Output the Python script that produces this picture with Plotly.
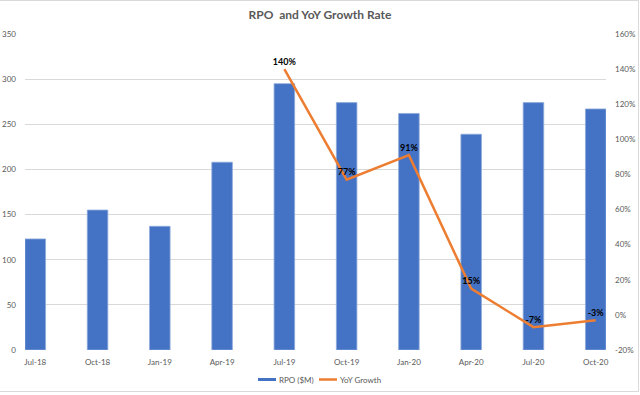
import plotly.graph_objects as go

quarters = ["Jul-18", "Oct-18", "Jan-19", "Apr-19", "Jul-19", "Oct-19",
            "Jan-20", "Apr-20", "Jul-20", "Oct-20"]
rpo_musd = [123, 155, 137, 208, 295, 274, 262, 239, 274, 267]
growth_quarters = ["Jul-19", "Oct-19", "Jan-20", "Apr-20", "Jul-20", "Oct-20"]
yoy_growth_pct = [140, 77, 91, 15, -7, -3]
left_ticks = [0, 50, 100, 150, 200, 250, 300, 350]
right_ticks = [-20, 0, 20, 40, 60, 80, 100, 120, 140, 160]
right_tick_labels = [f"{v}%" for v in right_ticks]
legend_labels = ["RPO ($M)", "YoY Growth"]

FONT = "Lato, Open Sans, sans-serif"
GRAY = "#595959"
BLUE = "#4472C4"
ORANGE = "#ED7D31"
TICK = 8

W, H = 640, 395
ML, MR, MT, MB = 25, 34, 34, 45
PW, PH = W - ML - MR, H - MT - MB


def px(x):  # page x pixel -> paper x
    return (x - ML) / PW


def py(y):  # page y pixel -> paper y
    return (H - MB - y) / PH


fig = go.Figure()
fig.add_trace(go.Bar(
    x=quarters, y=rpo_musd, name=legend_labels[0], showlegend=False,
    marker=dict(color=BLUE, line=dict(color="#8EA9DB", width=0.8)),
    width=0.33,
))
fig.add_trace(go.Scatter(
    x=growth_quarters, y=yoy_growth_pct, name=legend_labels[1], yaxis="y2",
    mode="lines+markers+text", showlegend=False,
    line=dict(color=ORANGE, width=2.5),
    marker=dict(size=2, color="rgba(0,0,0,0)"),
    text=[f"{v}%" for v in yoy_growth_pct],
    textposition="top center",
    textfont=dict(family=FONT, size=9, color="black", weight="bold"),
    cliponaxis=False,
))

shapes = [
    # chart frame
    dict(type="rect", xref="paper", yref="paper",
         x0=px(-2), x1=px(638.5), y0=py(391.5), y1=py(0.5),
         line=dict(color="#D9D9D9", width=1), layer="below"),
    # legend swatches
    dict(type="rect", xref="paper", yref="paper",
         x0=px(258), x1=px(276), y0=py(381), y1=py(378),
         fillcolor=BLUE, line=dict(width=0)),
    dict(type="line", xref="paper", yref="paper",
         x0=px(319), x1=px(337), y0=py(379.5), y1=py(379.5),
         line=dict(color=ORANGE, width=2.5)),
]
annotations = [
    dict(text=legend_labels[0], xref="paper", yref="paper", x=px(277),
         y=py(379.5), xanchor="left", yanchor="middle", showarrow=False,
         font=dict(family=FONT, size=TICK, color=GRAY)),
    dict(text=legend_labels[1], xref="paper", yref="paper", x=px(337.5),
         y=py(379.5), xanchor="left", yanchor="middle", showarrow=False,
         font=dict(family=FONT, size=TICK, color=GRAY)),
]

fig.update_layout(
    width=W, height=H, showlegend=False,
    margin=dict(l=ML, r=MR, t=MT, b=MB, autoexpand=False),
    paper_bgcolor="white", plot_bgcolor="white",
    font=dict(family=FONT, size=TICK, color=GRAY),
    title=dict(text="RPO\u00a0 and YoY Growth Rate", x=0.5, xanchor="center",
               y=1 - 15 / H, yanchor="middle", automargin=False,
               font=dict(family=FONT, size=12, color=GRAY, weight="bold")),
    xaxis=dict(type="category", categoryorder="array", categoryarray=quarters,
               range=[-0.165, 9.165], showgrid=False, zeroline=False,
               showline=False, ticks="", ticklabelstandoff=6, automargin=False,
               tickfont=dict(size=TICK, color=GRAY)),
    yaxis=dict(range=[0, 350], tickvals=left_ticks, showgrid=True,
               gridcolor="#D9D9D9", gridwidth=1, zeroline=False, ticks="",
               ticklabelstandoff=8, automargin=False,
               tickfont=dict(size=TICK, color=GRAY)),
    yaxis2=dict(range=[-20, 160], tickvals=right_ticks,
                ticktext=right_tick_labels,
                overlaying="y", side="right", showgrid=False, zeroline=False,
                ticks="", ticklabelstandoff=8, automargin=False,
                tickfont=dict(size=TICK, color=GRAY)),
    bargap=0.67,
    shapes=shapes,
    annotations=annotations,
)

fig.write_html("out.html", config={"displayModeBar": False},
               post_script="document.body.style.margin='0';"
                           "document.documentElement.style.overflow='hidden';")
